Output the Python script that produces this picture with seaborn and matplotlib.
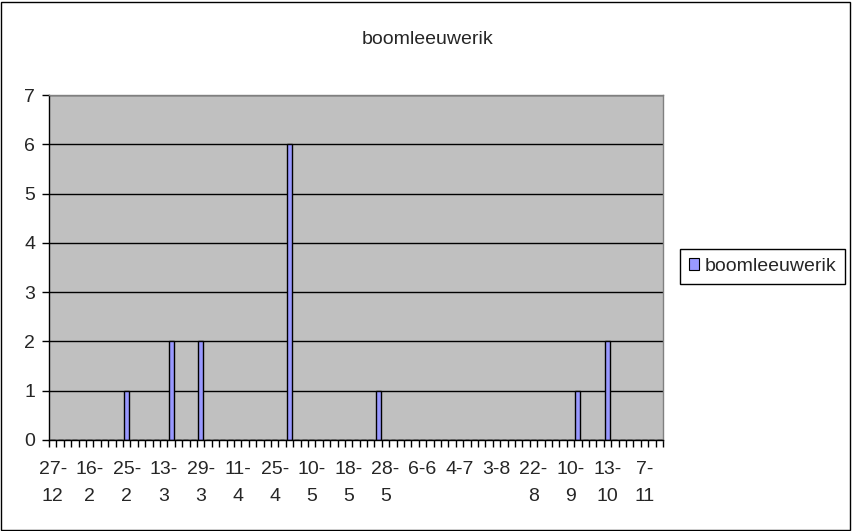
import numpy as np
import pandas as pd
import matplotlib
matplotlib.use("Agg")
import matplotlib.pyplot as plt
import matplotlib.patches as mpatches
import seaborn as sns

sns.set_theme(style="white")
plt.rcParams['font.family'] = ['Liberation Sans', 'DejaVu Sans']

# Categories (dates, day-month); only every 5th label is readable in the reference
dates = [
    "27-12", "3-1", "10-1", "22-1", "2-2", "16-2", "18-2", "20-2", "22-2", "24-2",
    "25-2", "27-2", "3-3", "7-3", "10-3", "13-3", "15-3", "18-3", "22-3", "26-3",
    "29-3", "31-3", "3-4", "6-4", "8-4", "11-4", "14-4", "17-4", "20-4", "22-4",
    "25-4", "27-4", "29-4", "3-5", "7-5", "10-5", "12-5", "14-5", "15-5", "17-5",
    "18-5", "20-5", "22-5", "24-5", "26-5", "28-5", "30-5", "1-6", "2-6", "4-6",
    "6-6", "10-6", "16-6", "22-6", "28-6", "4-7", "10-7", "16-7", "22-7", "28-7",
    "3-8", "7-8", "11-8", "15-8", "19-8", "22-8", "27-8", "31-8", "3-9", "7-9",
    "10-9", "14-9", "19-9", "25-9", "5-10", "13-10", "18-10", "22-10", "26-10", "31-10",
    "7-11", "14-11", "21-11",
]
# Observed counts (dates with a bar)
obs_dates = ["25-2", "15-3", "29-3", "29-4", "26-5", "14-9", "13-10"]
obs_counts = [1, 2, 2, 6, 1, 1, 2]
series_name = "boomleeuwerik"

counts = dict(zip(obs_dates, obs_counts))
df = pd.DataFrame({"datum": dates, "aantal": [counts.get(d, 0) for d in dates]})

W, H = 852, 531
fig = plt.figure(figsize=(W / 100, H / 100), dpi=100)
ax = fig.add_axes([49 / W, 1 - 440 / H, (663 - 49) / W, (440 - 95) / H])
ax.set_facecolor("#C0C0C0")

sns.barplot(data=df, x="datum", y="aantal", order=dates, color="#9999FF",
            width=0.66, edgecolor="black", linewidth=1.0, saturation=1, ax=ax)

n = len(dates)
ax.set_xlim(-0.5, n - 0.5)
ax.set_ylim(0, 7)
ax.set_yticks(range(0, 8))
ax.yaxis.grid(True, color="black", linewidth=1)
ax.set_axisbelow(True)

FS = 14
# x labels every 5th category, wrapped at the hyphen like the original
pos = list(range(0, n, 5))
labs = []
for i in pos:
    d = dates[i]
    labs.append(d.replace("-", "-\n", 1) if len(d) > 3 else d)
ax.set_xticks(pos)
ax.set_xticklabels(labs, fontsize=FS, linespacing=1.75, va="top")
ax.tick_params(axis="x", which="major", length=0, pad=15)
ax.set_xticks(np.arange(-0.5, n, 1), minor=True)
ax.tick_params(axis="x", which="minor", length=5, width=1, color="black", direction="out", bottom=True)
ax.tick_params(axis="y", length=5, width=1, color="black", direction="out", left=True, labelsize=FS, pad=5)

ax.set_xlabel("")
ax.set_ylabel("")
for s in ["top", "right"]:
    ax.spines[s].set_color("#808080")
    ax.spines[s].set_linewidth(1)
for s in ["left", "bottom"]:
    ax.spines[s].set_color("black")
    ax.spines[s].set_linewidth(1)

fig.text(0.502, 1 - 40 / H, series_name, ha="center", va="center", fontsize=FS)

handle = mpatches.Patch(facecolor="#9999FF", edgecolor="black", linewidth=0.8, label=series_name)
leg = fig.legend(handles=[handle], loc="center left", bbox_to_anchor=(680 / W, 1 - 266.5 / H),
                 fontsize=FS, frameon=True, fancybox=False, edgecolor="black", framealpha=1,
                 handlelength=0.55, handleheight=0.55, handletextpad=0.25, borderpad=0.45,
                 borderaxespad=0)
leg.get_frame().set_linewidth(1)

fig.patches.append(mpatches.Rectangle((1 / W, 1 / H), 1 - 3 / W, 1 - 3 / H, transform=fig.transFigure,
                                      fill=False, edgecolor="black", linewidth=1))

fig.savefig("out.png", dpi=100, facecolor="white")
